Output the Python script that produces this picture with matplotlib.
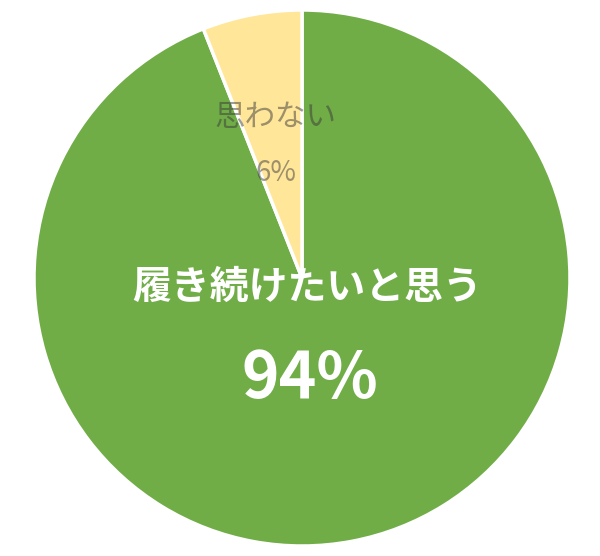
import matplotlib
matplotlib.use("Agg")
import matplotlib.pyplot as plt

labels = ["履き続けたいと思う", "思わない"]
values = [94, 6]
colors = ["#70AD47", "#FFE699"]

plt.rcParams['font.family'] = ['Noto Sans CJK JP', 'DejaVu Sans']

fig = plt.figure(figsize=(6, 5.56), dpi=100)
ax = fig.add_axes([(302 - 268) / 600, (556 - 546) / 556, 536 / 600, 536 / 556])
wedges, _ = ax.pie(values, colors=colors, startangle=90, counterclock=False,
                   radius=1.0, wedgeprops=dict(edgecolor="white", linewidth=2.5))
ax.set_xlim(-1, 1)
ax.set_ylim(-1, 1)
ax.set_aspect("equal")
ax.axis("off")

def px(x, y):
    # convert pixel coords to data coords
    return ((x - 302) / 268, (278 - y) / 268)

x, y = px(307, 287)
ax.text(x, y, labels[0], color="white", fontsize=28, fontweight="bold",
        ha="center", va="center")
x, y = px(310, 379)
ax.text(x, y, f"{values[0]}%", color="white", fontsize=46, fontweight="bold",
        ha="center", va="center")
x, y = px(275, 117)
ax.text(x, y, labels[1], color="#3a3a3a", alpha=0.5, fontsize=22,
        ha="center", va="center")
x, y = px(276, 173)
ax.text(x, y, f"{values[1]}%", color="#3a3a3a", alpha=0.5, fontsize=20,
        ha="center", va="center")

fig.savefig("out.png", dpi=100, facecolor="white")
